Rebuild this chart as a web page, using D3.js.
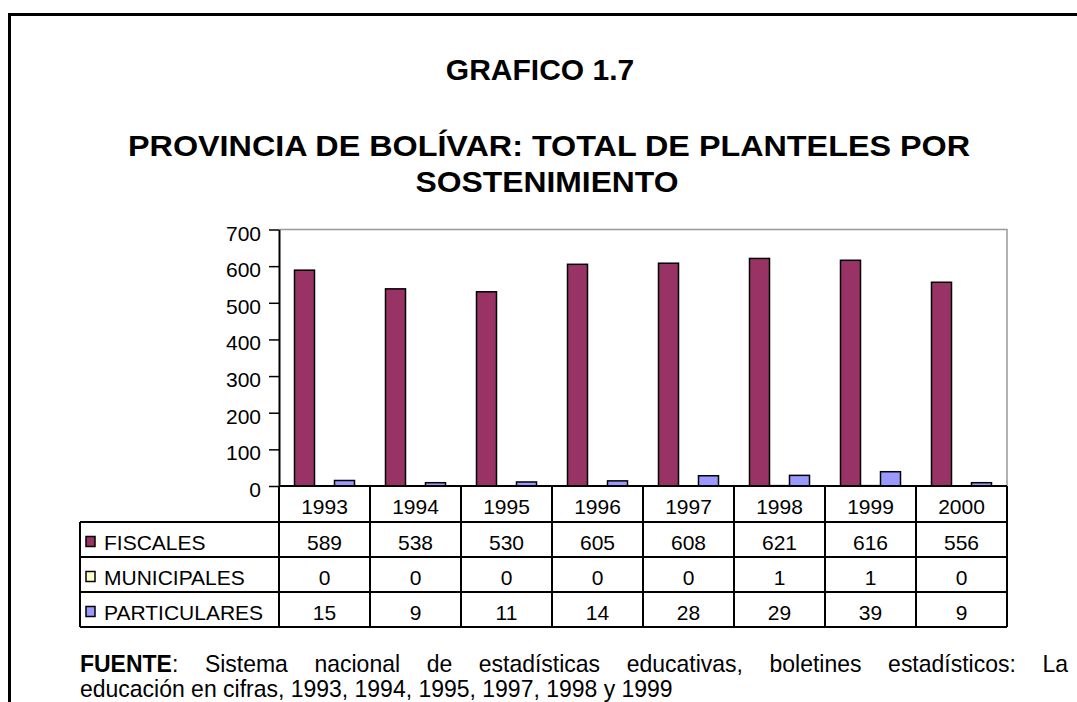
<!DOCTYPE html>
<html>
<head>
<meta charset="utf-8">
<script src="https://cdn.jsdelivr.net/npm/d3@7"></script>
<style>
  html, body { margin: 0; padding: 0; background: #fff; }
  svg { display: block; }
  text { font-family: "Liberation Sans", Arial, sans-serif; fill: #000; }
</style>
</head>
<body>
<svg id="chart" width="1077" height="702"></svg>
<script>
// ---- data ----
const years = ["1993", "1994", "1995", "1996", "1997", "1998", "1999", "2000"];
const seriesNames = ["FISCALES", "MUNICIPALES", "PARTICULARES"];
const fiscales = [589, 538, 530, 605, 608, 621, 616, 556];
const municipales = [0, 0, 0, 0, 0, 1, 1, 0];
const particulares = [15, 9, 11, 14, 28, 29, 39, 9];
const yTicks = [0, 100, 200, 300, 400, 500, 600, 700];
const titleLines = ["GRAFICO 1.7", "PROVINCIA DE BOLÍVAR: TOTAL DE PLANTELES POR", "SOSTENIMIENTO"];
const footerLine1 = ["Sistema", "nacional", "de", "estadísticas", "educativas,", "boletines", "estadísticos:", "La"];
const footerLine2 = "educación en cifras, 1993, 1994, 1995, 1997, 1998 y 1999";

const seriesValues = [fiscales, municipales, particulares];
const colors = ["#993366", "#FFFFCC", "#9999FF"];

const svg = d3.select("#chart");

// ---- outer frame ----
svg.append("path")
  .attr("d", "M9.5,702 L9.5,14.5 L1077,14.5")
  .attr("fill", "none").attr("stroke", "#000").attr("stroke-width", 3);

// ---- titles ----
const titleFont = 30;
svg.append("text").attr("x", 540).attr("y", 80).attr("text-anchor", "middle")
  .attr("font-size", titleFont).attr("font-weight", "bold").text(titleLines[0]);
svg.append("text").attr("x", 549).attr("y", 156).attr("text-anchor", "middle")
  .attr("font-size", titleFont).attr("font-weight", "bold")
  .attr("textLength", 842).attr("lengthAdjust", "spacingAndGlyphs").text(titleLines[1]);
svg.append("text").attr("x", 547).attr("y", 192).attr("text-anchor", "middle")
  .attr("font-size", titleFont).attr("font-weight", "bold")
  .attr("textLength", 263).attr("lengthAdjust", "spacingAndGlyphs").text(titleLines[2]);

// ---- scales ----
const plotLeft = 279, plotRight = 1007, plotTop = 229.5, plotBottom = 486;
const x = d3.scaleBand().domain(years).range([plotLeft, plotRight]);
const xs = d3.scaleBand().domain(seriesNames).range([0, x.bandwidth()])
  .paddingInner(0).paddingOuter(0.775);
const y = d3.scaleLinear().domain([0, 700]).range([plotBottom, plotTop]);

// plot border (gray top & right)
svg.append("path")
  .attr("d", `M${plotLeft},${plotTop} L${plotRight},${plotTop} L${plotRight},${plotBottom}`)
  .attr("fill", "none").attr("stroke", "#999").attr("stroke-width", 1.5);

// ---- bars ----
const groups = svg.append("g").selectAll("g").data(years).join("g")
  .attr("transform", d => `translate(${x(d)},0)`);
groups.selectAll("rect")
  .data((yr, i) => seriesNames.map((s, k) => ({ s, k, v: seriesValues[k][i] })))
  .join("rect")
  .attr("x", d => xs(d.s))
  .attr("width", xs.bandwidth())
  .attr("y", d => y(d.v))
  .attr("height", d => y(0) - y(d.v))
  .attr("fill", d => colors[d.k])
  .attr("stroke", "#000").attr("stroke-width", 1.5);

// ---- y axis ----
const yAxis = d3.axisLeft(y).tickValues(yTicks).tickSize(10).tickPadding(8).tickSizeOuter(0);
const ga = svg.append("g").attr("transform", `translate(${plotLeft},0)`).call(yAxis);
ga.select(".domain").attr("stroke", "#000").attr("stroke-width", 2);
ga.selectAll(".tick line").attr("stroke", "#000").attr("stroke-width", 1.5);
ga.selectAll(".tick text").attr("font-size", 21).attr("dy", "0.5em")
  .attr("font-family", "'Liberation Sans', Arial, sans-serif").attr("fill", "#000");

// ---- data table ----
const rowEdges = [486, 522, 557, 592, 627];
const tableLeft = 80;
const tg = svg.append("g");
const lineW = 2;
tg.append("line").attr("x1", plotLeft).attr("x2", plotRight).attr("y1", rowEdges[0]).attr("y2", rowEdges[0])
  .attr("stroke", "#000").attr("stroke-width", lineW);
for (let r = 1; r < rowEdges.length; r++) {
  tg.append("line").attr("x1", tableLeft).attr("x2", plotRight).attr("y1", rowEdges[r]).attr("y2", rowEdges[r])
    .attr("stroke", "#000").attr("stroke-width", lineW);
}
tg.append("line").attr("x1", tableLeft).attr("x2", tableLeft).attr("y1", rowEdges[1]).attr("y2", rowEdges[4])
  .attr("stroke", "#000").attr("stroke-width", lineW);
const vx = years.map(d => x(d)).concat([plotRight]);
vx.forEach(xx => {
  tg.append("line").attr("x1", xx).attr("x2", xx).attr("y1", rowEdges[0]).attr("y2", rowEdges[4])
    .attr("stroke", "#000").attr("stroke-width", lineW);
});
const rowMid = r => (rowEdges[r] + rowEdges[r + 1]) / 2;
tg.selectAll("text.yr").data(years).join("text").attr("class", "yr")
  .attr("x", d => x(d) + x.bandwidth() / 2).attr("y", rowMid(0) + 10)
  .attr("text-anchor", "middle").attr("font-size", 21).text(d => d);
seriesNames.forEach((s, k) => {
  const cy = rowMid(k + 1);
  tg.append("rect").attr("x", 86).attr("y", cy - 3).attr("width", 9).attr("height", 10)
    .attr("fill", colors[k]).attr("stroke", "#000").attr("stroke-width", 1.5);
  tg.append("text").attr("x", 104).attr("y", cy + 10).attr("font-size", 21).text(s);
  tg.selectAll("text.v" + k).data(seriesValues[k]).join("text").attr("class", "v" + k)
    .attr("x", (d, i) => x(years[i]) + x.bandwidth() / 2).attr("y", cy + 10)
    .attr("text-anchor", "middle").attr("font-size", 21).text(d => d);
});

// ---- footer (condensed, justified first line) ----
const fSize = 24;
const fg = svg.append("g");
const l2 = fg.append("text").attr("font-size", fSize).text(footerLine2);
const w2 = l2.node().getComputedTextLength();
const sx = 593 / w2;
l2.attr("transform", `translate(80,697) scale(${sx},1)`);

const line1Y = 672;
const startX = 80, endX = 1068;
const head = fg.append("text").attr("font-size", fSize);
head.append("tspan").attr("font-weight", "bold").text("FUENTE");
head.append("tspan").text(":");
const words = [head];
footerLine1.forEach(w => words.push(fg.append("text").attr("font-size", fSize).text(w)));
const widths = words.map(t => t.node().getComputedTextLength() * sx);
const total = d3.sum(widths);
const gap = (endX - startX - total) / (words.length - 1);
let cx = startX;
words.forEach((t, i) => {
  t.attr("transform", `translate(${cx},${line1Y}) scale(${sx},1)`);
  cx += widths[i] + gap;
});
</script>
</body>
</html>
